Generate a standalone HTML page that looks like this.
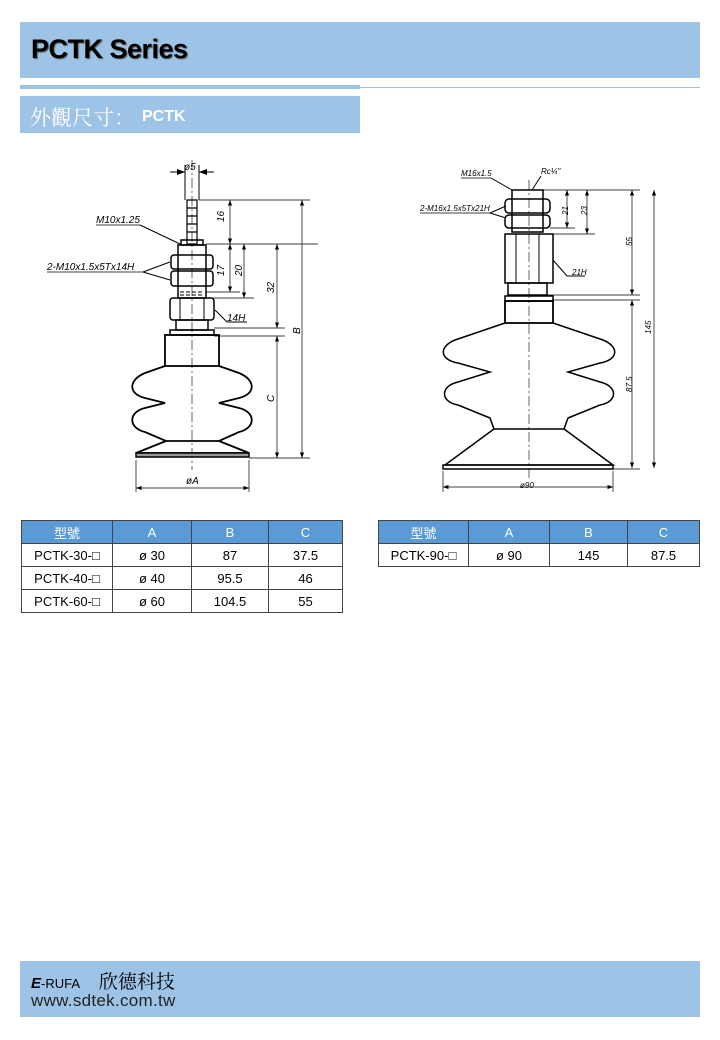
<!DOCTYPE html>
<html><head><meta charset="utf-8"><style>
body{margin:0;width:720px;height:1040px;background:#fff;position:relative;overflow:hidden;font-family:"Liberation Sans","Noto Sans CJK TC",sans-serif}
.band{position:absolute;background:#9dc3e6}
table{position:absolute;border-collapse:collapse;font-family:"Liberation Sans","Noto Sans CJK TC",sans-serif;font-size:13px}
td,th{border:1px solid #444;text-align:center;height:22px;padding:0}
th{background:#5b9bd5;color:#fff;font-weight:normal}
</style></head><body>
<div class="band" style="left:20px;top:22px;width:680px;height:56px"></div>
<div style="position:absolute;left:31px;top:34px;font-size:27px;font-weight:bold;letter-spacing:-0.5px;text-shadow:1px 1px 1px #555">PCTK Series</div>
<div class="band" style="left:20px;top:85px;width:340px;height:4px"></div>
<div class="band" style="left:360px;top:87px;width:340px;height:1px"></div>
<div class="band" style="left:20px;top:96px;width:340px;height:37px"></div>
<div style="position:absolute;left:30px;top:102px;color:#fff;font-size:21px;font-family:'Noto Serif CJK SC',serif">外觀尺寸：</div>
<div style="position:absolute;left:142px;top:108px;color:#fff;font-size:16px;font-weight:bold">PCTK</div>

<svg style="position:absolute;left:0;top:0" width="720" height="520" fill="none" stroke="#000" stroke-width="1">
<defs><marker id="a" viewBox="0 0 8 6" refX="8" refY="3" markerWidth="8" markerHeight="6" orient="auto-start-reverse"><path d="M0,0L8,3L0,6z" fill="#000" stroke="none"/></marker></defs>
<g font-family="Liberation Sans" font-style="italic" font-size="10" fill="#000" stroke="none">
<text x="184" y="170">ø5</text><text x="96" y="223">M10x1.25</text><text x="47" y="270">2-M10x1.5x5Tx14H</text>
<text x="227" y="321">14H</text><text x="186" y="484">øA</text>
<text x="461" y="176" font-size="8">M16x1.5</text><text x="541" y="174" font-size="8">Rc¼"</text>
<text x="420" y="211" font-size="8">2-M16x1.5x5Tx21H</text><text x="572" y="275" font-size="8">21H</text><text x="520" y="488" font-size="8">ø90</text>
<text transform="translate(224,222) rotate(-90)">16</text><text transform="translate(224,276) rotate(-90)">17</text>
<text transform="translate(242,276) rotate(-90)">20</text><text transform="translate(274,293) rotate(-90)">32</text>
<text transform="translate(300,334) rotate(-90)">B</text><text transform="translate(274,402) rotate(-90)">C</text>
<text transform="translate(568,215) rotate(-90)" font-size="8">21</text><text transform="translate(587,215) rotate(-90)" font-size="8">23</text>
<text transform="translate(632,246) rotate(-90)" font-size="8">55</text><text transform="translate(651,334) rotate(-90)" font-size="8">145</text>
<text transform="translate(632,392) rotate(-90)" font-size="8">87.5</text>
</g>
<line x1="96" y1="225" x2="140" y2="225" stroke-width="0.8"/>
<line x1="47" y1="272" x2="143" y2="272" stroke-width="0.8"/>
<line x1="140" y1="225" x2="180" y2="244"/>
<path d="M143,272L170,262M143,272L170,280"/>
<path d="M215,310L227,322L247,322"/>
<line x1="192" y1="160" x2="192" y2="470" stroke-dasharray="10,3,2,3" stroke-width="0.6"/>
<path d="M185,165V200M199,165V200"/>
<line x1="170" y1="172" x2="185" y2="172" marker-end="url(#a)"/><line x1="214" y1="172" x2="199" y2="172" marker-end="url(#a)"/>
<path d="M187,200h10v44h-10z M187,208h10M187,216h10M187,224h10M187,232h10" stroke-width="1.2"/>
<rect x="181" y="240" width="22" height="5" stroke-width="1.5"/>
<rect x="178" y="245" width="28" height="53" stroke-width="1.5"/>
<rect x="171" y="255" width="42" height="14" rx="3" stroke-width="1.5"/>
<rect x="171" y="271" width="42" height="15" rx="3" stroke-width="1.5"/>
<path d="M180,292h24M180,295h24" stroke-dasharray="4,2"/>
<rect x="170" y="298" width="44" height="22" rx="3" stroke-width="1.5"/>
<path d="M180,298v22M204,298v22"/>
<rect x="176" y="320" width="32" height="10" stroke-width="1.5"/>
<rect x="170" y="330" width="44" height="5" stroke-width="1.5"/>
<rect x="165" y="335" width="54" height="31" stroke-width="1.8"/>
<path d="M165,366L145,373C128,380 128,394 145,398L165,403L145,408C128,412 128,428 145,432L166,441H219L239,432C256,428 256,412 239,408L219,403L239,398C256,394 256,380 239,373L219,366M166,441L136,453H249L219,441" stroke-width="1.8"/>
<rect x="136" y="453" width="113" height="4" fill="#999" stroke-width="1.5"/>
<path d="M199,200H310M206,244H318M206,292H240M206,298H254M214,328H285M214,336H285M249,458H310M136,460V492M249,460V492" stroke-width="0.7"/>
<line x1="230" y1="244" x2="230" y2="200" marker-end="url(#a)" marker-start="url(#a)" stroke-width="0.7"/>
<line x1="230" y1="292" x2="230" y2="244" marker-end="url(#a)" marker-start="url(#a)" stroke-width="0.7"/>
<line x1="244" y1="298" x2="244" y2="244" marker-end="url(#a)" marker-start="url(#a)" stroke-width="0.7"/>
<line x1="277" y1="328" x2="277" y2="244" marker-end="url(#a)" marker-start="url(#a)" stroke-width="0.7"/>
<line x1="277" y1="458" x2="277" y2="336" marker-end="url(#a)" marker-start="url(#a)" stroke-width="0.7"/>
<line x1="302" y1="458" x2="302" y2="200" marker-end="url(#a)" marker-start="url(#a)" stroke-width="0.7"/>
<line x1="136" y1="488" x2="249" y2="488" marker-end="url(#a)" marker-start="url(#a)" stroke-width="0.7"/>
<line x1="529" y1="180" x2="529" y2="478" stroke-dasharray="10,3,2,3" stroke-width="0.6"/>
<line x1="461" y1="178" x2="491" y2="178" stroke-width="0.8"/><path d="M491,178L512,190M541,176L532,190"/>
<line x1="420" y1="213" x2="490" y2="213" stroke-width="0.8"/><path d="M490,213L506,206M490,213L506,218"/>
<path d="M553,260L567,276H585"/>
<rect x="512" y="190" width="31" height="42" stroke-width="1.5"/>
<rect x="505" y="199" width="45" height="14" rx="4" stroke-width="1.5"/>
<rect x="505" y="215" width="45" height="13" rx="4" stroke-width="1.5"/>
<rect x="505" y="234" width="48" height="49" stroke-width="1.5"/><path d="M516,234v49M539,234v49"/>
<rect x="508" y="283" width="39" height="12" stroke-width="1.5"/>
<rect x="505" y="296" width="48" height="5" stroke-width="1.5"/>
<rect x="505" y="301" width="48" height="22" stroke-width="1.8"/>
<path d="M505,323L455,340C438,347 440,360 458,363L490,372L458,382C440,386 440,402 458,405L490,418L494,429L445,465H613L564,429L568,418L600,405C618,402 618,386 600,382L568,372L600,363C618,360 620,347 603,340L553,323M494,429H564" stroke-width="1.5"/>
<rect x="443" y="465" width="170" height="4" stroke-width="1.5"/>
<path d="M543,190H640M550,228H575M550,234H595M547,295H640M553,300H640M613,469H640M443,471V492M613,471V492" stroke-width="0.7"/>
<line x1="567" y1="228" x2="567" y2="190" marker-end="url(#a)" marker-start="url(#a)" stroke-width="0.7"/>
<line x1="587" y1="234" x2="587" y2="190" marker-end="url(#a)" marker-start="url(#a)" stroke-width="0.7"/>
<line x1="632" y1="295" x2="632" y2="190" marker-end="url(#a)" marker-start="url(#a)" stroke-width="0.7"/>
<line x1="632" y1="468" x2="632" y2="300" marker-end="url(#a)" marker-start="url(#a)" stroke-width="0.7"/>
<line x1="654" y1="468" x2="654" y2="190" marker-end="url(#a)" marker-start="url(#a)" stroke-width="0.7"/>
<line x1="443" y1="487" x2="613" y2="487" marker-end="url(#a)" marker-start="url(#a)" stroke-width="0.7"/>
</svg>

<table style="left:21px;top:520px;width:322px">
<tr><th style="width:90px">型號</th><th style="width:78px">A</th><th style="width:76px">B</th><th>C</th></tr>
<tr><td>PCTK-30-□</td><td>ø 30</td><td>87</td><td>37.5</td></tr>
<tr><td>PCTK-40-□</td><td>ø 40</td><td>95.5</td><td>46</td></tr>
<tr><td>PCTK-60-□</td><td>ø 60</td><td>104.5</td><td>55</td></tr>
</table>
<table style="left:378px;top:520px;width:322px">
<tr><th style="width:89px">型號</th><th style="width:80px">A</th><th style="width:77px">B</th><th>C</th></tr>
<tr><td>PCTK-90-□</td><td>ø 90</td><td>145</td><td>87.5</td></tr>
</table>

<div class="band" style="left:20px;top:961px;width:680px;height:56px"></div>
<div style="position:absolute;left:31px;top:967px;font-size:13px"><b><i style="font-size:15px">E</i></b>-RUFA <span style="font-family:'Noto Serif CJK TC',serif;font-size:19px;margin-left:16px">欣德科技</span></div>
<div style="position:absolute;left:31px;top:991px;font-size:17px;color:#222;letter-spacing:0.3px">www.sdtek.com.tw</div>
</body></html>
